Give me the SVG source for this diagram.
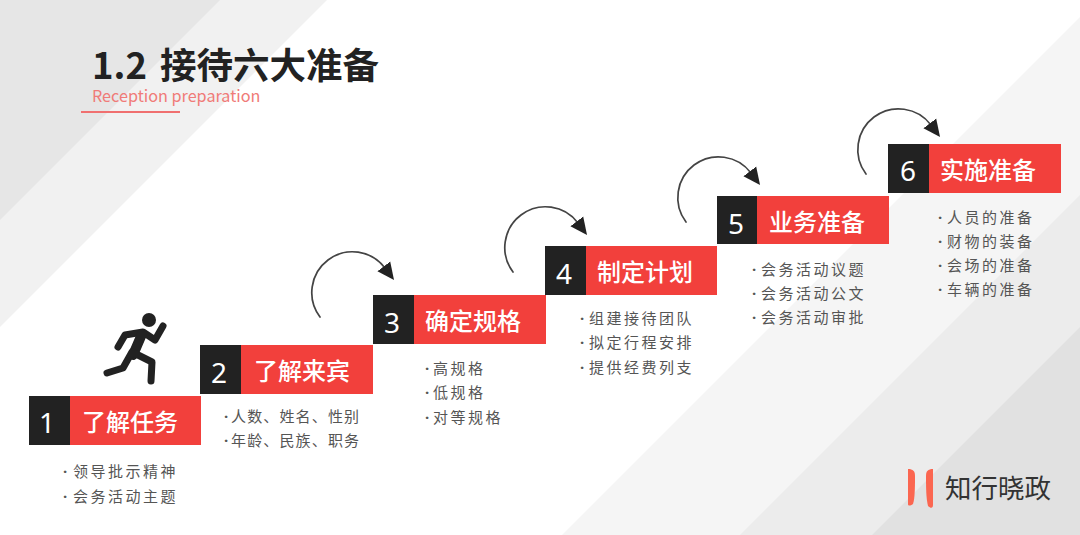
<svg xmlns="http://www.w3.org/2000/svg" width="1080" height="535" viewBox="0 0 1080 535">
<defs>
<style>
text{font-family:"Noto Sans CJK SC","Noto Sans",sans-serif}
.k{fill:#222222}.r{fill:#f2403c}
.num{font-family:"Noto Sans","Noto Sans CJK SC",sans-serif;font-size:28px;fill:#fff;text-anchor:middle}
.lab{font-size:24px;fill:#fff;font-weight:500}
.li{font-size:15px;fill:#555;letter-spacing:2.5px}
.li2{letter-spacing:1.15px}
.b{font-family:"Noto Sans",sans-serif;font-weight:700}
.arc{fill:none;stroke:#444;stroke-width:1.7;stroke-linecap:round;marker-end:url(#ah)}
.run{fill:none;stroke:#222;stroke-width:7;stroke-linecap:round;stroke-linejoin:round}
</style>
<marker id="ah" markerUnits="userSpaceOnUse" markerWidth="20" markerHeight="20" refX="2" refY="10" orient="auto">
<path d="M0 2L17 10L0 18Z" fill="#222"/>
</marker>
</defs>
<rect width="1080" height="535" fill="#fff"/>
<path d="M0 0H327L0 327Z" fill="#f1f1f1"/>
<path d="M0 0H220L0 220Z" fill="#e6e6e6"/>
<path d="M1080 17V535H562Z" fill="#f5f5f5"/>
<path d="M1080 195V535H740Z" fill="#ececec"/>
<path d="M1080 327V535H872Z" fill="#e1e1e1"/>
<g id="title">
<text y="79" font-size="36.5" font-weight="700" fill="#222"><tspan x="92">1.2</tspan><tspan x="160">接待六大准备</tspan></text>
<text x="92" y="101.500" font-size="16.2" fill="#f07b78">Reception preparation</text>
<rect x="81" y="111" width="99" height="2" fill="#f07070"/>
</g>
<g id="runner">
<circle cx="149" cy="320" r="7" fill="#222"/>
<path class="run" d="M118 347L125 335L143 332L155 340L163 326"/>
<path class="run" style="stroke-width:10" d="M142 334L133 355"/>
<path class="run" d="M107 373L123 368L132 352L152 362L151 381"/>
</g>
<g id="connectors">
<path class="arc" d="M320 317A40 40 0 0 1 385 268"/>
<path class="arc" d="M513 272A40 40 0 0 1 578 223"/>
<path class="arc" d="M686 222A40 40 0 0 1 751 173"/>
<path class="arc" d="M866 174A40 40 0 0 1 931 125"/>
</g>
<g id="step1">
<rect class="k" x="29" y="396" width="41" height="49"/><rect class="r" x="70" y="396" width="131" height="49"/>
<text class="num" x="47" y="433">1</text><text class="lab" x="82" y="431">了解任务</text>
<text class="li" y="477"><tspan class="b" x="63">·</tspan><tspan x="73">领导批示精神</tspan></text>
<text class="li" y="502"><tspan class="b" x="63">·</tspan><tspan x="73">会务活动主题</tspan></text>
</g>
<g id="step2">
<rect class="k" x="200" y="345" width="41" height="49"/><rect class="r" x="241" y="345" width="132" height="49"/>
<text class="num" x="219" y="383">2</text><text class="lab" x="254" y="380">了解来宾</text>
<text class="li li2" y="422"><tspan class="b" x="224">·</tspan><tspan x="231">人数、姓名、性别</tspan></text>
<text class="li li2" y="446"><tspan class="b" x="224">·</tspan><tspan x="231">年龄、民族、职务</tspan></text>
</g>
<g id="step3">
<rect class="k" x="373" y="295" width="41" height="49"/><rect class="r" x="414" y="295" width="132" height="49"/>
<text class="num" x="392" y="333">3</text><text class="lab" x="425" y="330">确定规格</text>
<text class="li" y="374"><tspan class="b" x="425">·</tspan><tspan x="433">高规格</tspan></text>
<text class="li" y="398"><tspan class="b" x="425">·</tspan><tspan x="433">低规格</tspan></text>
<text class="li" y="423"><tspan class="b" x="425">·</tspan><tspan x="433">对等规格</tspan></text>
</g>
<g id="step4">
<rect class="k" x="545" y="246" width="41" height="49"/><rect class="r" x="586" y="246" width="131" height="49"/>
<text class="num" x="564" y="284">4</text><text class="lab" x="597" y="281">制定计划</text>
<text class="li" y="324"><tspan class="b" x="580">·</tspan><tspan x="589">组建接待团队</tspan></text>
<text class="li" y="348"><tspan class="b" x="580">·</tspan><tspan x="589">拟定行程安排</tspan></text>
<text class="li" y="373"><tspan class="b" x="580">·</tspan><tspan x="589">提供经费列支</tspan></text>
</g>
<g id="step5">
<rect class="k" x="717" y="196" width="41" height="48"/><rect class="r" x="757" y="196" width="132" height="48"/>
<text class="num" x="736" y="234">5</text><text class="lab" x="769" y="231">业务准备</text>
<text class="li" y="275"><tspan class="b" x="752">·</tspan><tspan x="761">会务活动议题</tspan></text>
<text class="li" y="299"><tspan class="b" x="752">·</tspan><tspan x="761">会务活动公文</tspan></text>
<text class="li" y="323"><tspan class="b" x="752">·</tspan><tspan x="761">会务活动审批</tspan></text>
</g>
<g id="step6">
<rect class="k" x="888" y="144" width="41" height="49"/><rect class="r" x="929" y="144" width="132" height="49"/>
<text class="num" x="908" y="181">6</text><text class="lab" x="940" y="179">实施准备</text>
<text class="li" y="223"><tspan class="b" x="938">·</tspan><tspan x="947">人员的准备</tspan></text>
<text class="li" y="247"><tspan class="b" x="938">·</tspan><tspan x="947">财物的装备</tspan></text>
<text class="li" y="271"><tspan class="b" x="938">·</tspan><tspan x="947">会场的准备</tspan></text>
<text class="li" y="295"><tspan class="b" x="938">·</tspan><tspan x="947">车辆的准备</tspan></text>
</g>
<g id="logo">
<path d="M908 469C913 469 915 471 915 476C915 486 915 498 913 504C910 506 908 506 908 504Z" fill="#fb6650"/>
<path d="M933 469C928 469 926 471 926 476C926 486 926 498 928 506C931 509 933 508 933 505Z" fill="#fb6650"/>
<text x="945" y="498" font-size="26.5" fill="#333">知行晓政</text>
</g>
</svg>
